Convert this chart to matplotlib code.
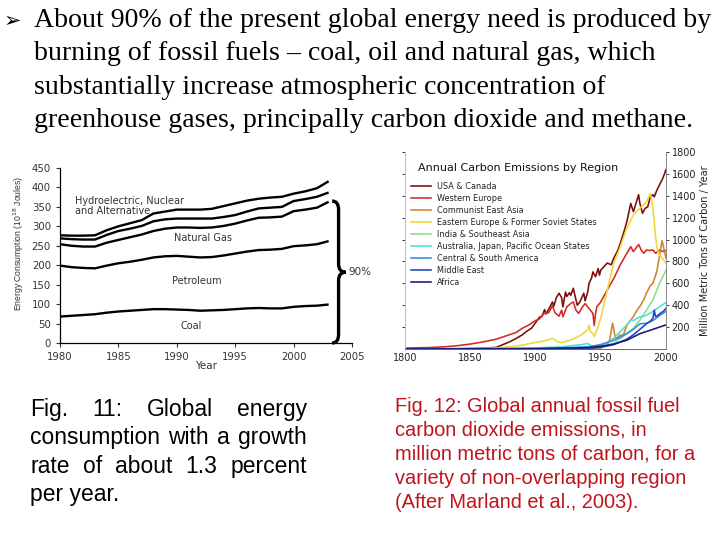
import matplotlib
matplotlib.use("Agg")
import matplotlib.pyplot as plt
from matplotlib.path import Path
from matplotlib.patches import PathPatch

# ---- Fig. 11 data: stacked energy consumption (10^18 J) ----
energy_years = [1980, 1981, 1982, 1983, 1984, 1985, 1986, 1987, 1988, 1989, 1990, 1991,
                1992, 1993, 1994, 1995, 1996, 1997, 1998, 1999, 2000, 2001, 2002, 2003]
coal = [68, 70, 72, 74, 78, 81, 83, 85, 87, 87, 86, 85, 83, 84, 85, 87, 89, 90, 89, 89, 93, 95, 96, 99]
petroleum = [199, 195, 193, 192, 199, 205, 209, 214, 220, 223, 224, 222, 220, 221, 225, 230, 235, 239, 240, 242, 249, 251, 254, 262]
natural_gas = [254, 250, 248, 248, 258, 265, 272, 279, 288, 294, 297, 297, 296, 297, 301, 307, 315, 322, 323, 325, 339, 343, 348, 363]
nuclear = [269, 267, 266, 266, 278, 288, 294, 301, 313, 318, 320, 320, 320, 320, 324, 329, 338, 346, 348, 350, 365, 370, 376, 387]
total = [277, 276, 276, 277, 290, 300, 308, 316, 333, 338, 343, 343, 343, 345, 352, 359, 366, 371, 374, 376, 384, 390, 398, 416]

# ---- Fig. 12 data: carbon emissions by region (million metric tons C / yr) ----
usa_years = [1800, 1820, 1840, 1850, 1860, 1870, 1880, 1885, 1890, 1893, 1897, 1900, 1903, 1905,
             1907, 1908, 1910, 1913, 1914, 1916, 1918, 1920, 1921, 1923, 1924, 1926, 1927, 1929,
             1930, 1932, 1934, 1937, 1938, 1940, 1941, 1943, 1944, 1946, 1948, 1949, 1950, 1953,
             1955, 1958, 1960, 1963, 1965, 1968, 1970, 1973, 1975, 1977, 1979, 1980, 1982, 1984,
             1986, 1988, 1990, 1991, 1993, 1995, 1997, 1998, 1999, 2000]
usa = [1, 2, 3, 5, 8, 15, 65, 95, 130, 160, 190, 240, 290, 300,
       360, 320, 360, 430, 390, 470, 510, 470, 385, 520, 480, 515, 490, 555,
       500, 400, 430, 510, 440, 520, 600, 650, 705, 660, 735, 675, 720, 760,
       785, 770, 830, 900, 965, 1080, 1165, 1330, 1255, 1330, 1410, 1330, 1240, 1285,
       1300, 1390, 1410, 1390, 1450, 1500, 1545, 1575, 1605, 1640]

weu_years = [1800, 1820, 1830, 1840, 1850, 1860, 1870, 1880, 1885, 1890, 1895, 1900, 1903, 1907,
             1910, 1913, 1915, 1918, 1920, 1921, 1924, 1927, 1929, 1931, 1933, 1936, 1938, 1940,
             1942, 1944, 1945, 1946, 1947, 1950, 1955, 1960, 1965, 1970, 1973, 1975, 1979, 1981,
             1983, 1985, 1987, 1990, 1992, 1995, 1998, 2000]
weu = [8, 14, 20, 30, 45, 65, 90, 130, 150, 190, 220, 260, 275, 330,
       330, 395, 330, 300, 355, 295, 385, 415, 430, 355, 325, 385, 415, 385,
       355, 325, 215, 325, 385, 430, 540, 645, 770, 875, 935, 890, 955, 905,
       875, 905, 900, 905, 875, 905, 890, 900]

cea_years = [1800, 1900, 1950, 1955, 1957, 1959, 1960, 1961, 1962, 1965, 1967, 1970, 1972,
             1975, 1978, 1980, 1983, 1985, 1988, 1990, 1993, 1995, 1997, 1998, 1999, 2000]
cea = [0, 3, 10, 40, 90, 235, 180, 110, 95, 130, 120, 215, 250,
       295, 360, 390, 450, 510, 580, 600, 710, 850, 990, 940, 880, 830]

eeu_years = [1800, 1850, 1860, 1870, 1880, 1890, 1900, 1905, 1910, 1913, 1917, 1920, 1925, 1930,
             1935, 1938, 1940, 1941, 1942, 1944, 1945, 1947, 1950, 1955, 1960, 1965, 1970, 1975,
             1980, 1985, 1988, 1989, 1990, 1991, 1992, 1993, 1994, 1996, 1998, 2000]
eeu = [0, 3, 5, 10, 20, 35, 60, 70, 85, 97, 65, 58, 75, 97,
       128, 158, 174, 219, 158, 143, 113, 174, 280, 540, 785, 935, 1105, 1225,
       1285, 1345, 1420, 1360, 1285, 1165, 1025, 935, 875, 845, 815, 785]

ind_years = [1800, 1900, 1930, 1950, 1960, 1965, 1970, 1975, 1980, 1985, 1990, 1995, 2000]
ind = [0, 5, 10, 21, 52, 97, 143, 189, 265, 355, 450, 600, 720]

aus_years = [1800, 1880, 1900, 1920, 1935, 1940, 1945, 1950, 1955, 1960, 1965, 1970, 1973,
             1975, 1980, 1983, 1985, 1988, 1990, 1995, 2000]
aus = [0, 2, 10, 20, 40, 50, 15, 40, 60, 100, 160, 220, 265, 260, 295, 300, 310, 326, 345, 385, 425]

csa_years = [1800, 1900, 1920, 1940, 1950, 1960, 1970, 1975, 1980, 1985, 1990, 1995, 2000]
csa = [0, 5, 10, 20, 40, 80, 140, 180, 230, 235, 260, 305, 345]

mde_years = [1800, 1930, 1940, 1950, 1960, 1970, 1975, 1980, 1985, 1988, 1990, 1991, 1992,
             1993, 1995, 1998, 2000]
mde = [0, 2, 5, 15, 40, 90, 130, 180, 230, 255, 280, 355, 295, 300, 320, 345, 370]

afr_years = [1800, 1900, 1920, 1940, 1950, 1960, 1970, 1975, 1980, 1985, 1990, 1995, 2000]
afr = [0, 3, 8, 12, 25, 45, 80, 110, 140, 160, 180, 200, 220]

regions = ["USA & Canada", "Western Europe", "Communist East Asia",
           "Eastern Europe & Former Soviet States", "India & Southeast Asia",
           "Australia, Japan, Pacific Ocean States", "Central & South America",
           "Middle East", "Africa"]
region_colors = ["#7a0c0c", "#d42a1e", "#d2822a", "#ecd838", "#8ede86",
                 "#4fdcdc", "#2f8ed6", "#2a3fc4", "#141a7a"]
region_data = [(usa_years, usa), (weu_years, weu), (cea_years, cea), (eeu_years, eeu),
               (ind_years, ind), (aus_years, aus), (csa_years, csa), (mde_years, mde),
               (afr_years, afr)]

W, H = 720, 540
fig = plt.figure(figsize=(7.2, 5.4), dpi=100)


def px_axes(x0, y0, x1, y1):
    return fig.add_axes([x0 / W, 1 - y1 / H, (x1 - x0) / W, (y1 - y0) / H])


def ftext(x, y, s, **kw):
    return fig.text(x / W, 1 - y / H, s, **kw)


def justify(words, x0, x1, y, **kw):
    texts = [ftext(0, y, w, **kw) for w in words]
    r = fig.canvas.get_renderer()
    widths = [t.get_window_extent(r).width for t in texts]
    gap = ((x1 - x0) - sum(widths)) / (len(words) - 1)
    x = x0
    for t, w in zip(texts, widths):
        t.set_x(x / W)
        x += w + gap


# ---- heading ----
serif = "Liberation Serif"
ftext(4, 27, "\u27a2", fontsize=15, family="DejaVu Sans", va="baseline")
head = ["About 90% of the present global energy need is produced by",
        "burning of fossil fuels \u2013 coal, oil and natural gas, which",
        "substantially increase atmospheric concentration of",
        "greenhouse gases, principally carbon dioxide and methane."]
for i, line in enumerate(head):
    ftext(34, 27 + i * 33.3, line, fontsize=20.1, family=serif, va="baseline")

# ---- Fig. 11 ----
ax1 = px_axes(60, 168, 352, 343)
gray = "#333333"
for ys in [coal, petroleum, natural_gas, nuclear, total]:
    ax1.plot(energy_years, ys, color="black", lw=1.7, solid_capstyle="butt")
ax1.set_xlim(1980, 2005)
ax1.set_ylim(0, 450)
ax1.set_xticks(range(1980, 2006, 5))
ax1.set_yticks(range(0, 451, 50))
ax1.tick_params(labelsize=7.3, colors=gray, length=3, width=0.8)
for s in ["top", "right"]:
    ax1.spines[s].set_visible(False)
for s in ["left", "bottom"]:
    ax1.spines[s].set_linewidth(0.9)
ax1.set_xlabel("Year", fontsize=7.5, color=gray, labelpad=-1)
ax1.set_ylabel("Energy Consumption (10$^{18}$ Joules)", fontsize=6.2, color=gray,
               family=["Liberation Sans Narrow", "Liberation Sans"])
ax1.yaxis.set_label_coords(-0.118, 0.57)
lab = dict(fontsize=7, color=gray)
ax1.text(1981.3, 352, "Hydroelectric, Nuclear\nand Alternative", va="center", linespacing=0.95, **lab)
ax1.text(1989.8, 270, "Natural Gas", va="center", **lab)
ax1.text(1989.6, 160, "Petroleum", va="center", **lab)
ax1.text(1990.3, 44, "Coal", va="center", **lab)

# brace spanning the fossil-fuel share
x0, xm, xt = 2003.3, 2003.85, 2004.45
y0, ym, yt, d = 0, 182, 365, 22
verts = [(x0, y0), (xm, y0), (xm, y0 + d), (xm, ym - d), (xm, ym), (xt, ym),
         (xm, ym), (xm, ym + d), (xm, yt - d), (xm, yt), (x0, yt)]
codes = [Path.MOVETO, Path.CURVE3, Path.CURVE3, Path.LINETO, Path.CURVE3, Path.CURVE3,
         Path.CURVE3, Path.CURVE3, Path.LINETO, Path.CURVE3, Path.CURVE3]
ax1.add_patch(PathPatch(Path(verts, codes), fill=False, lw=2.4, color="black", clip_on=False))
ax1.text(2004.7, ym, "90%", fontsize=7.5, color=gray, va="center")

# ---- Fig. 12 ----
ax2 = px_axes(405, 152, 666, 349)
for (xs, ys), c, name in zip(region_data, region_colors, regions):
    ax2.plot(xs, ys, color=c, lw=1.15, label=name)
ax2.set_xlim(1800, 2000)
ax2.set_ylim(0, 1800)
ax2.set_xticks(range(1800, 2001, 50))
ax2.set_yticks(range(200, 1801, 200))
ax2.tick_params(axis="y", left=True, right=True, labelleft=False, labelright=True,
                labelsize=7, colors="#222222", length=2.5, width=0.6, pad=1.5)
ax2.tick_params(axis="x", labelsize=7, colors="#222222", length=0, pad=3)
ax2.yaxis.set_label_position("right")
ax2.spines["top"].set_visible(False)
ax2.spines["left"].set_color("#bbbbbb")
ax2.spines["right"].set_color("#888888")
ax2.spines["bottom"].set_color("#666666")
for s in ["left", "right", "bottom"]:
    ax2.spines[s].set_linewidth(0.7)
ax2.set_ylabel("Million Metric Tons of Carbon / Year", fontsize=7, color="#222222", labelpad=3)
ax2.text(0.05, 0.905, "Annual Carbon Emissions by Region", transform=ax2.transAxes,
         fontsize=8, color="#111111", va="baseline")
ax2.legend(loc="upper left", bbox_to_anchor=(0.0, 0.875), frameon=False, fontsize=5.9,
           handlelength=2.5, handletextpad=0.7, labelspacing=0.36, borderaxespad=0.3,
           labelcolor="#222222")

# ---- captions ----
cap = dict(fontsize=16.5, family="Liberation Sans", va="baseline")
justify(["Fig.", "11:", "Global", "energy"], 30, 307, 416, **cap)
justify(["consumption", "with", "a", "growth"], 30, 307, 444, **cap)
justify(["rate", "of", "about", "1.3", "percent"], 30, 307, 472.7, **cap)
ftext(30, 500.7, "per year.", **cap)

red_cap = ["Fig. 12: Global annual fossil fuel",
           "carbon dioxide emissions, in",
           "million metric tons of carbon, for a",
           "variety of non-overlapping region",
           "(After Marland et al., 2003)."]
for i, line in enumerate(red_cap):
    ftext(395, 411.7 + i * 24.1, line, fontsize=14.4, family="Liberation Sans",
          color="#c0141c", va="baseline")

fig.savefig("out.png", dpi=100)
